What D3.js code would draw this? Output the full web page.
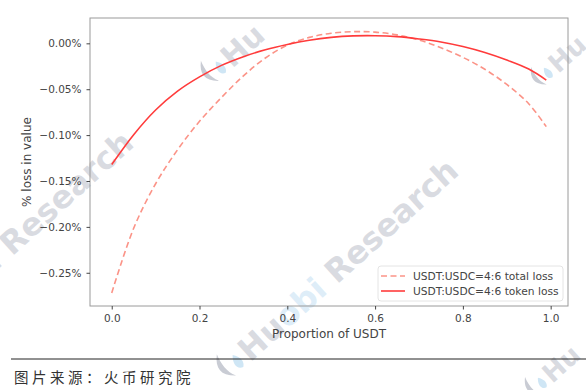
<!DOCTYPE html>
<html>
<head>
<meta charset="utf-8">
<script src="https://cdn.jsdelivr.net/npm/d3@7"></script>
<style>
  html, body { margin: 0; padding: 0; background: #fff; }
  svg { display: block; }
</style>
</head>
<body>
<svg id="chart" width="586" height="390"></svg>
<script>
// ---- data (values in %) ----
const proportionUSDT = [0, 0.05, 0.1, 0.15, 0.2, 0.25, 0.3, 0.35, 0.4, 0.45, 0.5, 0.55, 0.6, 0.65, 0.7, 0.75, 0.8, 0.85, 0.9, 0.95, 0.99];
const totalLoss = [-0.272, -0.2015, -0.153, -0.116, -0.085, -0.059, -0.0355, -0.016, -0.002, 0.0065, 0.011, 0.0127, 0.0122, 0.0092, 0.0037, -0.0048, -0.0153, -0.0283, -0.0448, -0.0658, -0.0908];
const tokenLoss = [-0.132, -0.0995, -0.0726, -0.052, -0.0365, -0.024, -0.0145, -0.007, -0.0012, 0.0034, 0.0065, 0.0081, 0.0083, 0.0073, 0.0048, 0.0015, -0.0035, -0.010, -0.0182, -0.028, -0.040];
const seriesNames = ["USDT:USDC=4:6 total loss", "USDT:USDC=4:6 token loss"];
const xTicks = [0.0, 0.2, 0.4, 0.6, 0.8, 1.0];
const yTicks = [0.00, -0.05, -0.10, -0.15, -0.20, -0.25];
const xLabel = "Proportion of USDT";
const yLabel = "% loss in value";
const caption = "图片来源：火币研究院";

const svg = d3.select("#chart");
const plot = { left: 90, right: 568, top: 18, bottom: 306 };

const x = d3.scaleLinear().domain([-0.0495, 1.0395]).range([plot.left, plot.right]);
const y = d3.scaleLinear().domain([-0.2862, 0.0276]).range([plot.bottom, plot.top]);

const font = "'DejaVu Sans', sans-serif";
const textCol = "#444";
const spineCol = "#9a9a9a";

// ---- watermarks ----
const wm = svg.append("g").attr("class", "watermark").attr("pointer-events", "none");
function mark(cx, cy, size, parts) {
  const g = wm.append("g").attr("transform", `translate(${cx},${cy}) rotate(-42)`);
  g.append("path")
    .attr("d", `M${-size*0.9},${-size*0.55} c${-size*0.35},${size*0.3} ${-size*0.35},${size*0.6} 0,${size*0.9} c${-size*0.15},${-size*0.3} ${-size*0.1},${-size*0.6} 0,${-size*0.9}z`)
    .attr("fill", "#c9ccd4");
  g.append("path")
    .attr("d", `M${-size*0.55},${-size*0.2} c${-size*0.2},${size*0.2} ${-size*0.2},${size*0.45} 0,${size*0.5} c${size*0.15},${-size*0.1} ${size*0.15},${-size*0.3} 0,${-size*0.5}z`)
    .attr("fill", "#cfe6f5");
  const t = g.append("text")
    .attr("x", -size*0.3).attr("y", size*0.35)
    .attr("font-family", font).attr("font-weight", "bold")
    .attr("font-size", size).attr("fill", "#c9ccd4").attr("fill-opacity", 0.7);
  parts.forEach(p => t.append("tspan").attr("fill", p[1]).text(p[0]));
}
const grey = "#c9ccd4", blue = "#cfe6f5";
mark(250, 348, 32, [["Hu", grey], ["obi", blue], [" Research", grey]]);
mark(232, 55, 30, [["Hu", grey]]);
mark(-75, 320, 32, [["Huobi", grey], [" Research", grey]]);
mark(558, 62, 26, [["Hu", grey]]);
mark(552, 372, 26, [["Hu", grey]]);

// ---- axes frame ----
svg.append("rect")
  .attr("x", plot.left).attr("y", plot.top)
  .attr("width", plot.right - plot.left).attr("height", plot.bottom - plot.top)
  .attr("fill", "none").attr("stroke", spineCol).attr("stroke-width", 1);

// x axis
const xAxis = d3.axisBottom(x).tickValues(xTicks).tickFormat(d3.format(".1f")).tickSizeOuter(0).tickSize(3.5).tickPadding(5);
const gx = svg.append("g").attr("transform", `translate(0,${plot.bottom})`).call(xAxis);
gx.select(".domain").remove();
gx.selectAll("line").attr("stroke", textCol);
gx.selectAll("text").attr("font-family", font).attr("font-size", 10.5).attr("fill", textCol);

// y axis
const yAxis = d3.axisLeft(y).tickValues(yTicks)
  .tickFormat(d => (d < 0 ? "\u2212" : "") + Math.abs(d).toFixed(2) + "%")
  .tickSizeOuter(0).tickSize(3.5).tickPadding(5);
const gy = svg.append("g").attr("transform", `translate(${plot.left},0)`).call(yAxis);
gy.select(".domain").remove();
gy.selectAll("line").attr("stroke", textCol);
gy.selectAll("text").attr("font-family", font).attr("font-size", 10.5).attr("fill", textCol);

// axis labels
svg.append("text").attr("x", (plot.left + plot.right) / 2).attr("y", 338)
  .attr("text-anchor", "middle").attr("font-family", font).attr("font-size", 12).attr("fill", textCol)
  .text(xLabel);
svg.append("text").attr("transform", `translate(31,${(plot.top + plot.bottom) / 2}) rotate(-90)`)
  .attr("text-anchor", "middle").attr("font-family", font).attr("font-size", 12).attr("fill", textCol)
  .text(yLabel);

// ---- lines ----
const line = d3.line().x((d, i) => x(proportionUSDT[i])).y(d => y(d)).curve(d3.curveCatmullRom.alpha(0.5));
const g = svg.append("g");
g.append("path").datum(totalLoss).attr("d", line)
  .attr("fill", "none").attr("stroke", "#fa8072").attr("stroke-opacity", 0.85)
  .attr("stroke-width", 1.6).attr("stroke-dasharray", "6,3.5");
g.append("path").datum(tokenLoss).attr("d", line)
  .attr("fill", "none").attr("stroke", "#ff3b3b").attr("stroke-width", 1.6);

// ---- legend ----
const lg = svg.append("g");
lg.append("rect").attr("x", 378).attr("y", 266).attr("width", 185).attr("height", 35)
  .attr("rx", 3).attr("fill", "#fff").attr("fill-opacity", 0.8).attr("stroke", "#dddddd").attr("stroke-width", 0.8);
lg.append("line").attr("x1", 381).attr("x2", 405).attr("y1", 276).attr("y2", 276)
  .attr("stroke", "#fa8072").attr("stroke-opacity", 0.85).attr("stroke-width", 1.6).attr("stroke-dasharray", "6,3.5");
lg.append("line").attr("x1", 381).attr("x2", 405).attr("y1", 291).attr("y2", 291)
  .attr("stroke", "#ff3b3b").attr("stroke-width", 1.6);
lg.selectAll("text.lab").data(seriesNames).join("text")
  .attr("x", 413).attr("y", (d, i) => 276 + i * 15).attr("dy", "0.35em")
  .attr("font-family", font).attr("font-size", 10.7).attr("fill", textCol).text(d => d);

// ---- caption ----
svg.append("line").attr("x1", 11).attr("x2", 586).attr("y1", 359).attr("y2", 359)
  .attr("stroke", "#222").attr("stroke-width", 1);
svg.append("text").attr("x", 14).attr("y", 383)
  .attr("font-family", "'Noto Sans CJK SC', sans-serif").attr("font-size", 14.5).attr("fill", "#333")
  .attr("letter-spacing", 3.5).text(caption);
</script>
</body>
</html>
